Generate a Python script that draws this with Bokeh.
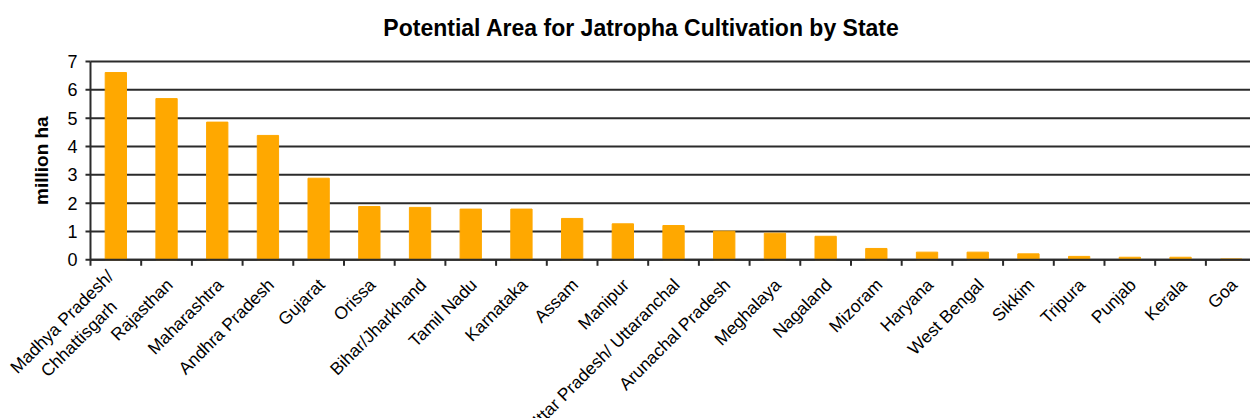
import math

from bokeh.core.properties import value
from bokeh.embed import file_html
from bokeh.resources import INLINE
from bokeh.plotting import figure
from bokeh.models import ColumnDataSource, Range1d, Label

# Potential area per state, million hectares
states = [
    "Madhya Pradesh/\nChhattisgarh", "Rajasthan", "Maharashtra", "Andhra Pradesh",
    "Gujarat", "Orissa", "Bihar/Jharkhand", "Tamil Nadu", "Karnataka", "Assam",
    "Manipur", "Uttar Pradesh/ Uttaranchal", "Arunachal Pradesh", "Meghalaya",
    "Nagaland", "Mizoram", "Haryana", "West Bengal", "Sikkim", "Tripura",
    "Punjab", "Kerala", "Goa",
]
area_mha = [
    6.61, 5.69, 4.86, 4.39, 2.88, 1.88, 1.85, 1.79, 1.79, 1.46,
    1.27, 1.21, 1.01, 0.94, 0.83, 0.40, 0.27, 0.27, 0.21, 0.12,
    0.09, 0.09, 0.03,
]
y_ticks = [0, 1, 2, 3, 4, 5, 6, 7]
y_tick_labels = [str(t) for t in y_ticks]

TITLE = "Potential Area for Jatropha Cultivation by State"
Y_LABEL = "million ha"

FONT = "Liberation Sans"
BAR_COLOR = "#FFA800"
LINE_COLOR = "#2b2b2b"

n = len(states)
centers = [i + 0.5 for i in range(n)]
bounds = list(range(n + 1))

bars = ColumnDataSource(dict(x=centers, top=area_mha, label=states, y0=[0] * n))
xticks = ColumnDataSource(dict(x=bounds, y=[0] * (n + 1)))
yticks = ColumnDataSource(dict(x=[0] * len(y_ticks), y=y_ticks,
                               x1=[n] * len(y_ticks), label=y_tick_labels))

# The frame covers the whole canvas; axes and title are drawn inside it so
# the slanted category names have room on every side.
p = figure(
    width=1250, height=418,
    output_backend="svg", toolbar_location=None,
    x_range=Range1d(-1.775, 22.88), y_range=Range1d(-5.602, 9.153),
    x_axis_location=None, y_axis_location=None,
    min_border=0,
)
p.outline_line_color = None
p.background_fill_color = "white"
p.border_fill_color = "white"
p.xgrid.visible = False
p.ygrid.visible = False

p.add_layout(Label(text=TITLE, x=641, y=391, x_units="screen", y_units="screen",
                   text_align="center", text_baseline="alphabetic",
                   text_font=FONT, text_font_size="23px",
                   text_font_style="bold", text_color="black"))

# horizontal grid lines
p.segment(x0="x", y0="y", x1="x1", y1="y", source=yticks,
          line_color=LINE_COLOR, line_width=2)

p.vbar(x="x", top="top", width=0.42, source=bars,
       fill_color=BAR_COLOR, line_color=BAR_COLOR, line_width=1)

# category axis: zero line and boundary tick marks
p.segment(x0=0, y0=y_ticks[0], x1=n, y1=y_ticks[0],
          line_color=LINE_COLOR, line_width=2)
p.ray(x="x", y="y", source=xticks, length=6, length_units="screen",
      angle=-math.pi / 2, line_color=LINE_COLOR, line_width=2)

# value axis: line, tick marks, tick labels and title
p.segment(x0=0, y0=y_ticks[0], x1=0, y1=y_ticks[-1],
          line_color=LINE_COLOR, line_width=2)
p.ray(x="x", y="y", source=yticks, length=5, length_units="screen",
      angle=math.pi, line_color=LINE_COLOR, line_width=2)
p.text(x="x", y="y", text="label", source=yticks,
       text_align="right", text_baseline="middle", x_offset=-13,
       text_font=value(FONT), text_font_size=value("18px"), text_color="black")
p.text(x=[0], y=[(y_ticks[0] + y_ticks[-1]) / 2], text=[Y_LABEL],
       angle=math.pi / 2, text_align="center", text_baseline="middle",
       x_offset=-49,
       text_font=value(FONT), text_font_size=value("19px"),
       text_font_style="bold", text_color="black")

# slanted category names
p.text(x="x", y="y0", text="label", source=bars,
       angle=math.pi / 4, anchor=value("center_right"), text_align="center",
       x_offset=3, y_offset=22,
       text_font=value(FONT), text_font_size=value("17.5px"), text_color="black")

open("out.html", "w").write(file_html(p, INLINE))
